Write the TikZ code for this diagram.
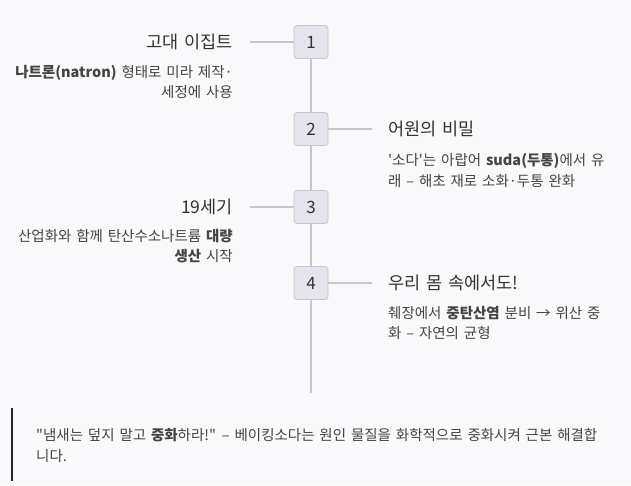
\documentclass[tikz,border=0pt]{standalone}
\usepackage{fontspec}
\setmainfont{Noto Sans CJK KR}[WordSpace=1.5]
\definecolor{bgcol}{HTML}{F9F9FB}
\definecolor{boxfill}{HTML}{E4E4EC}
\definecolor{boxline}{HTML}{C6C6CE}
\definecolor{textdark}{HTML}{333333}
\definecolor{textmid}{HTML}{444444}
\definecolor{barcol}{HTML}{22222C}
\begin{document}
\begin{tikzpicture}[x=1pt, y=-1pt, every node/.style={inner sep=0pt}]
\tikzset{
  stepbox/.style={draw=boxline, fill=boxfill, line width=0.8pt, rounded corners=3pt,
    minimum width=34pt, minimum height=33pt, font=\fontsize{17}{20}\selectfont\color{textdark}},
  spine/.style={draw=boxline, line width=2pt},
  tick/.style={draw=boxline, line width=1.2pt},
  steptitle/.style={font=\fontsize{17.5}{20}\selectfont, text=textdark},
  stepdesc/.style={font=\fontsize{14.5}{20.5}\selectfont, text=textmid}
}
\fill[bgcol] (0,0) rectangle (631,485);
% numbered steps
\foreach \i/\y in {1/42,2/129,3/207,4/283}
  \node[stepbox] (n\i) at (311,\y) {\i};
\coordinate (spineend) at (311,393);
\draw[spine] (n1) -- (n2) (n2) -- (n3) (n3) -- (n4) (n4) -- (spineend);
% left side
\node[steptitle, anchor=east] (t1) at (233,42) {고대 이집트};
\node[stepdesc, anchor=east, align=right] (d1) at (233,82)
  {\textbf{나트론(natron)} 형태로 미라 제작·\\세정에 사용};
\node[steptitle, anchor=east] (t3) at (233,207) {19세기};
\node[stepdesc, anchor=east, align=right] (d3) at (233,246)
  {산업화와 함께 탄산수소나트륨 \textbf{대량}\\\textbf{생산} 시작};
% right side
\node[steptitle, anchor=west] (t2) at (388,129) {어원의 비밀};
\node[stepdesc, anchor=west, align=left] (d2) at (388,170.5)
  {\textquotesingle 소다\textquotesingle 는 아랍어 \textbf{suda(두통)}에서 유\\래 – 해초 재로 소화·두통 완화};
\node[steptitle, anchor=west] (t4) at (388,283) {우리 몸 속에서도!};
\node[stepdesc, anchor=west, align=left] (d4) at (388,323)
  {췌장에서 \textbf{중탄산염} 분비 → 위산 중\\화 – 자연의 균형};
% ticks
\coordinate (c1) at (250,42);
\coordinate (c2) at (372,129);
\coordinate (c3) at (250,207);
\coordinate (c4) at (372,283);
\draw[tick] (n1.west) -- (c1);
\draw[tick] (n2.east) -- (c2);
\draw[tick] (n3.west) -- (c3);
\draw[tick] (n4.east) -- (c4);
% quote
\coordinate (qtop) at (12,408);
\coordinate (qbot) at (12,481);
\draw[barcol, line width=2.2pt] (qtop) -- (qbot);
\node[stepdesc, anchor=west, align=left] (quote) at (36,445.5)
  {\textquotedbl 냄새는 덮지 말고 \textbf{중화}하라!\textquotedbl{} – 베이킹소다는 원인 물질을 화학적으로 중화시켜 근본 해결합\\니다.};
\end{tikzpicture}
\end{document}
